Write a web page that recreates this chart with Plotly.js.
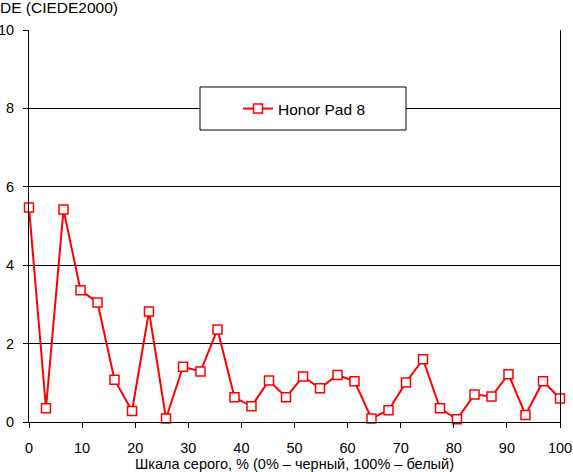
<!DOCTYPE html>
<html>
<head>
<meta charset="utf-8">
<script src="https://cdn.plot.ly/plotly-3.0.1.min.js"></script>
<style>
html,body{margin:0;padding:0;background:#fff;}
#chart{width:573px;height:472px;}
</style>
</head>
<body>
<div id="chart"></div>
<script>
const seriesName = 'Honor Pad 8';
const grayPercent = [0, 3.2, 6.5, 9.7, 12.9, 16.1, 19.4, 22.6, 25.8, 29.0, 32.3, 35.5, 38.7, 41.9, 45.2, 48.4,
  51.6, 54.8, 58.1, 61.3, 64.5, 67.7, 71.0, 74.2, 77.4, 80.6, 83.9, 87.1, 90.3, 93.5, 96.8, 100];
const deltaE = [5.47, 0.35, 5.42, 3.36, 3.05, 1.08, 0.28, 2.82, 0.09, 1.41, 1.29, 2.36, 0.63, 0.40, 1.06, 0.63,
  1.16, 0.86, 1.20, 1.04, 0.09, 0.30, 1.01, 1.60, 0.35, 0.07, 0.70, 0.65, 1.22, 0.18, 1.04, 0.60];
const xTicks = [0, 10, 20, 30, 40, 50, 60, 70, 80, 90, 100];
const yTicks = [0, 2, 4, 6, 8, 10];
const yTitle = 'DE (CIEDE2000)';
const xTitle = 'Шкала серого, % (0% – черный, 100% – белый)';

const font = 'Liberation Sans, Arial, sans-serif';

const trace = {
  x: grayPercent,
  y: deltaE,
  name: seriesName,
  type: 'scatter',
  mode: 'lines+markers',
  line: {color: '#ff0000', width: 2},
  marker: {symbol: 'square', size: 9, color: '#ffffff', line: {color: '#ff0000', width: 1.5}},
  showlegend: true,
  cliponaxis: false
};

const layout = {
  width: 573, height: 472,
  margin: {l: 29, r: 13, t: 30, b: 50, pad: 0},
  paper_bgcolor: '#ffffff',
  plot_bgcolor: '#ffffff',
  font: {family: font, size: 14.5, color: '#000000'},
  title: {text: yTitle, font: {family: font, size: 15.5, color: '#000'},
    x: 0, xref: 'container', xanchor: 'left', y: 1 - 8/472, yref: 'container', yanchor: 'middle', pad: {l: 0, t: 0}},
  xaxis: {
    range: [0, 100], tickvals: xTicks, ticktext: xTicks.map(String),
    showgrid: false, zeroline: false, showline: true, linecolor: '#000', linewidth: 1,
    ticks: 'outside', ticklen: 5, tickcolor: '#000', tickwidth: 1,
    ticklabelstandoff: 8,
    tickfont: {family: font, size: 14.5, color: '#000'},
    title: {text: xTitle, font: {family: font, size: 14.5, color: '#000'}, standoff: 6},
    fixedrange: true
  },
  yaxis: {
    range: [0, 10], tickvals: yTicks, ticktext: yTicks.map(String),
    showgrid: true, gridcolor: '#000', gridwidth: 1, zeroline: false,
    showline: true, linecolor: '#000', linewidth: 1, mirror: true,
    ticks: 'outside', ticklen: 5, tickcolor: '#000', tickwidth: 1,
    ticklabelstandoff: 6,
    tickfont: {family: font, size: 14.5, color: '#000'},
    fixedrange: true
  },
  shapes: [{
    type: 'rect', xref: 'paper', yref: 'paper',
    x0: (200 - 29) / 531, x1: (406 - 29) / 531,
    y0: (422 - 130) / 392, y1: (422 - 87) / 392,
    line: {color: '#000', width: 1}, fillcolor: '#ffffff', layer: 'above'
  }],
  legend: {
    x: (238 - 29) / 531, xanchor: 'left',
    y: (422 - 109) / 392, yanchor: 'middle',
    bgcolor: 'rgba(0,0,0,0)', borderwidth: 0,
    font: {family: font, size: 15.5, color: '#000'}
  },
  showlegend: true
};

Plotly.newPlot('chart', [trace], layout, {displayModeBar: false, staticPlot: true});
</script>
</body>
</html>
